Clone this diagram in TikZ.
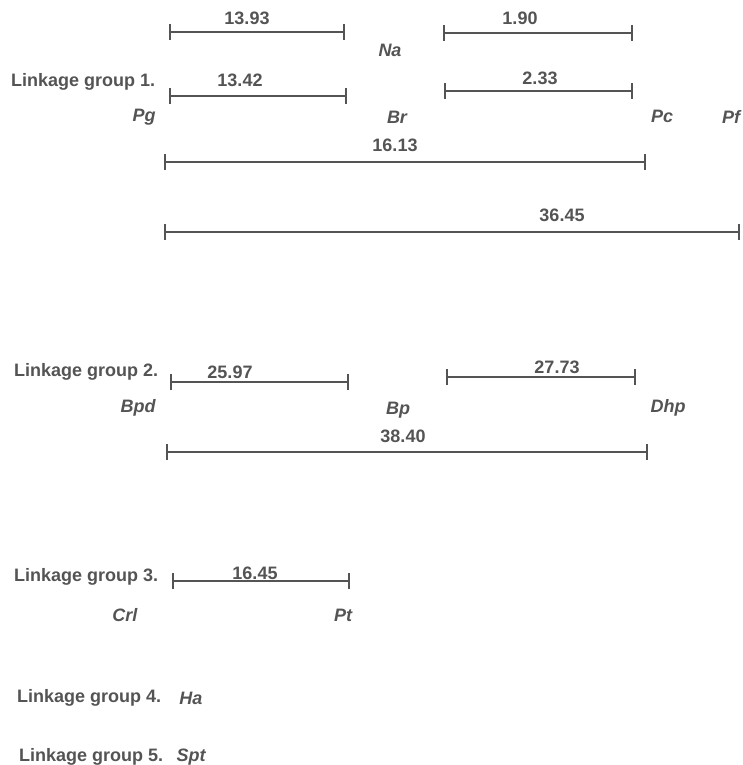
\documentclass[tikz,border=0pt]{standalone}
\usepackage{fontspec}
\setmainfont{Liberation Sans}
\usetikzlibrary{arrows.meta}
\definecolor{ink}{gray}{0.33}

\begin{document}
\begin{tikzpicture}[
  x=1pt,y=-1pt,
  every node/.style={font=\fontsize{18}{21}\selectfont\bfseries,text=ink,inner sep=1pt},
  group/.style={anchor=west},
  locus/.style={font=\fontsize{18}{21}\selectfont\bfseries\itshape},
  bar/.style={{Bar[width=16pt,line width=2pt]}-{Bar[width=16pt,line width=2pt]},draw=ink,line width=2.4pt}
]
\useasboundingbox (0,0) rectangle (742,765);
% linkage group 1
\node[group] (lg1) at (10,82) {Linkage group 1.};
\coordinate (pgna) at (169,32);  \coordinate (brna) at (345,32);
\coordinate (napc) at (443,33);  \coordinate (nana) at (633,33);
\coordinate (pgbr) at (169,96);  \coordinate (brpg) at (347,96);
\coordinate (brpc) at (444,91);  \coordinate (pcbr) at (633,91);
\coordinate (pgpc) at (164,162); \coordinate (pcpg) at (646,162);
\coordinate (pgpf) at (164,232); \coordinate (pfpg) at (740,232);
\node (d1) at (247,18) {13.93};
\node (d2) at (520,18) {1.90};
\node[locus] (na) at (390,50) {Na};
\node (d3) at (240,80) {13.42};
\node (d4) at (540,78) {2.33};
\node[locus] (pg) at (144,117) {Pg};
\node[locus] (br) at (397,117) {Br};
\node[locus] (pc) at (662,116) {Pc};
\node[locus] (pf) at (731,117) {Pf};
\node (d5) at (395,145) {16.13};
\node (d6) at (562,215) {36.45};
\draw[bar] (pgna) -- (brna);
\draw[bar] (napc) -- (nana);
\draw[bar] (pgbr) -- (brpg);
\draw[bar] (brpc) -- (pcbr);
\draw[bar] (pgpc) -- (pcpg);
\draw[bar] (pgpf) -- (pfpg);
% linkage group 2
\node[group] (lg2) at (13,372) {Linkage group 2.};
\coordinate (bpdbp) at (170,382); \coordinate (bpbpd) at (349,382);
\coordinate (bpdhp) at (446,377); \coordinate (dhpbp) at (636,377);
\coordinate (bpddhp) at (166,452); \coordinate (dhpbpd) at (648,452);
\node (d7) at (230,372) {25.97};
\node (d8) at (557,367) {27.73};
\node[locus] (bpd) at (138,408) {Bpd};
\node[locus] (bp) at (398,410) {Bp};
\node[locus] (dhp) at (668,408) {Dhp};
\node (d9) at (403,436) {38.40};
\draw[bar] (bpdbp) -- (bpbpd);
\draw[bar] (bpdhp) -- (dhpbp);
\draw[bar] (bpddhp) -- (dhpbpd);
% linkage group 3
\node[group] (lg3) at (13,577) {Linkage group 3.};
\coordinate (crlpt) at (172,581); \coordinate (ptcrl) at (350,581);
\node (d10) at (255,573) {16.45};
\node[locus] (crl) at (125,615) {Crl};
\node[locus] (pt) at (343,615) {Pt};
\draw[bar] (crlpt) -- (ptcrl);
% linkage groups 4 and 5
\node[group] (lg4) at (16,698) {Linkage group 4.};
\node[locus] (ha) at (191,698) {Ha};
\node[group] (lg5) at (18,757) {Linkage group 5.};
\node[locus] (spt) at (191,757) {Spt};
\end{tikzpicture}
\end{document}
